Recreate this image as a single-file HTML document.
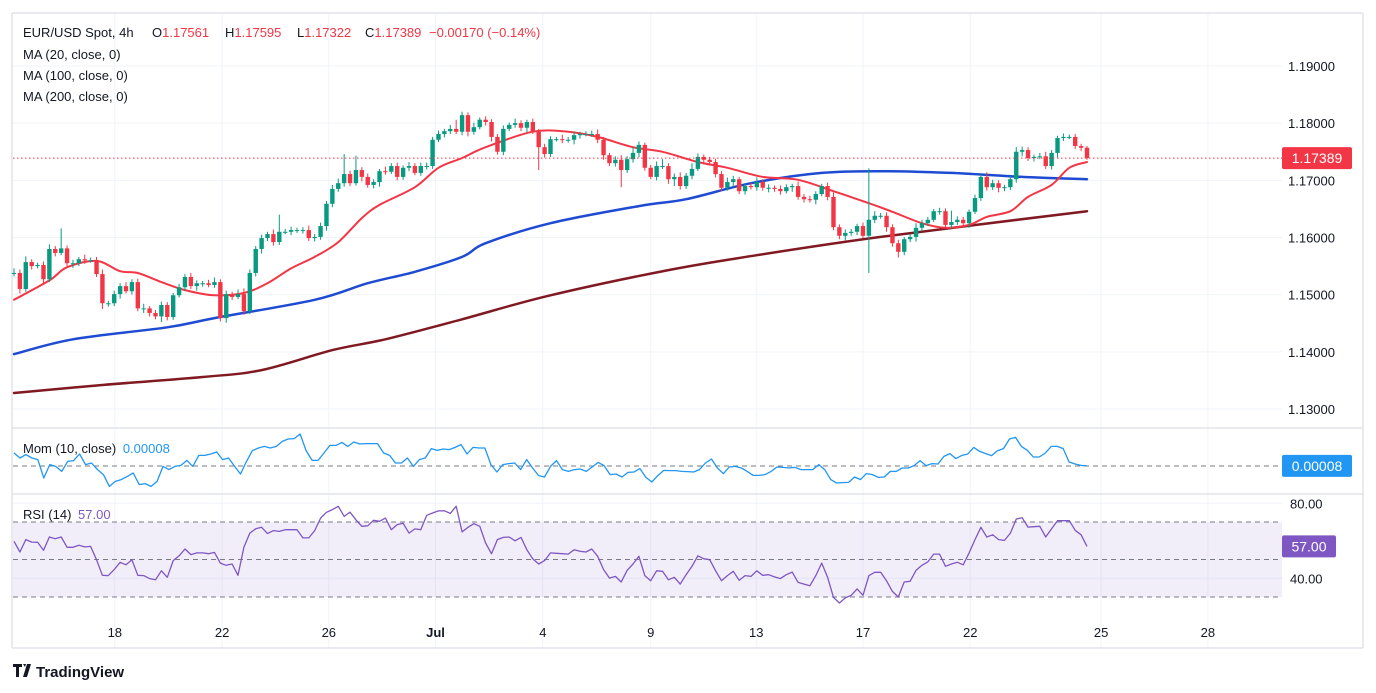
<!DOCTYPE html>
<html><head><meta charset="utf-8"><style>
html,body{margin:0;padding:0;background:#fff;width:1376px;height:693px;overflow:hidden}
svg{display:block;font-family:"Liberation Sans",sans-serif}
</style></head><body>
<svg id="chart" width="1376" height="693" viewBox="0 0 1376 693">
<rect x="0" y="0" width="1376" height="693" fill="#fff"/>
<g id="grid"></g>
<g id="panes"></g>
<g id="ma"></g>
<g id="candles"></g>
<g id="ind"></g>
<g id="axes"></g>
<g font-size="13" fill="#131722">
<text y="37"><tspan x="23">EUR/USD Spot, 4h</tspan><tspan x="152">O</tspan><tspan fill="#f23645">1.17561</tspan><tspan x="225">H</tspan><tspan fill="#f23645">1.17595</tspan><tspan x="297">L</tspan><tspan fill="#f23645">1.17322</tspan><tspan x="365">C</tspan><tspan fill="#f23645">1.17389</tspan><tspan x="429" fill="#f23645">−0.00170 (−0.14%)</tspan></text>
<text x="23" y="59">MA (20, close, 0)</text>
<text x="23" y="80">MA (100, close, 0)</text>
<text x="23" y="101">MA (200, close, 0)</text>
<text x="23" y="453">Mom (10, close) <tspan dx="3" fill="#2196f3">0.00008</tspan></text>
<text x="23" y="519">RSI (14) <tspan dx="3" fill="#7e57c2">57.00</tspan></text>
</g>
<g>
<path d="M13 664h9v3h-3v10h-3v-10h-3z M23 664h3l-1 3z M27 664h4l-4 13h-4z" fill="#131722"/>
<text x="36" y="677" font-size="15" font-weight="bold" fill="#131722">TradingView</text>
</g>
</svg>
<script>
const closes=[1.1538,1.1510,1.1557,1.1550,1.1552,1.1527,1.1580,1.1573,1.1581,1.1555,
1.1555,1.1562,1.1560,1.1560,1.1536,1.1485,1.1485,1.1501,1.1515,1.1506,
1.1522,1.1476,1.1476,1.1468,1.1462,1.1482,1.1461,1.1499,1.1513,1.1531,
1.1515,1.1520,1.1520,1.1517,1.1522,1.1459,1.1501,1.1496,1.1501,1.1471,
1.1538,1.1580,1.1599,1.1606,1.1592,1.1610,1.1610,1.1613,1.1613,1.1613,
1.1599,1.1601,1.1620,1.1659,1.1685,1.1695,1.1711,1.1695,1.1718,1.1706,
1.1692,1.1697,1.1716,1.1715,1.1725,1.1706,1.1722,1.1725,1.1713,1.1725,
1.1725,1.1771,1.1781,1.1786,1.1790,1.1785,1.1814,
1.1785,1.1793,1.1806,1.1802,1.1776,1.1750,1.1790,1.1797,1.1800,1.1792,
1.1802,1.1785,1.1758,1.1746,1.1772,1.1772,1.1771,1.1771,1.1779,1.1781,
1.1781,1.1781,1.1771,1.1744,1.1730,1.1736,1.1718,1.1737,1.1748,1.1762,
1.1722,1.1706,1.1725,1.1725,1.1702,1.1706,1.1690,1.1708,1.1720,1.1741,
1.1736,1.1732,1.1711,1.1687,1.1697,1.1702,1.1681,1.1690,1.1688,1.1697,
1.1687,1.1687,1.1685,1.1681,1.1688,1.1690,1.1671,1.1667,1.1666,1.1676,
1.1690,1.1671,1.1618,1.1603,1.1608,1.1610,1.1620,1.1603,1.1631,1.1638,
1.1638,1.1618,1.1590,1.1575,1.1597,1.1601,1.1617,1.1625,1.1631,1.1646,
1.1646,1.1622,1.1627,1.1631,1.1625,1.1645,1.1669,1.1706,1.1688,1.1695,
1.1687,1.1688,1.1702,1.1750,1.1753,1.1739,1.1741,1.1742,1.1725,1.1748,
1.1774,1.1776,1.1776,1.1760,1.1757,1.1739];
const firstOpen=1.1538;
const hiWickPips=[8,6,10,5,4,6,8,5,35,5, 6,4,8,5,6,8,4,6,5,7, 5,6,8,4,5,6,5,4,6,5, 7,5,4,6,8,5,6,4,8,10,
6,5,6,4,8,30,5,6,4,5, 8,5,6,5,7,8,35,6,25,5, 6,5,4,8,5,6,4,7,5,6, 6,5,6,4,7,16,6,5,8,4,
6,5,5,6,4,8,5,4,6,5, 6,5,4,8,5,6,4,5,6,8, 5,4,6,8,5,10,6,4,5,8, 12,5,6,8,5,10,6,4,5,6,
5,8,6,4,5,6,8,5,6,4, 6,5,4,8,5,6,5,4,6,8, 5,6,5,4,6,90,8,5,6,5, 6,4,5,8,6,5,4,6,5,20,
6,5,4,6,5,8,6,5,4,6, 8,6,5,4,6,8,5,4,6,4, 5,4,3];
const loWickPips=[6,8,5,6,4,8,5,6,4,5, 8,5,6,4,5,10,6,5,8,4, 6,5,8,6,5,10,6,5,4,6, 5,8,6,4,5,6,8,5,4,6,
5,6,8,5,6,5,4,6,5,6, 5,6,5,8,6,5,6,5,4,8, 5,6,8,5,4,6,5,6,4,5, 6,5,4,6,5,4,6,8,5,4,
6,8,5,6,4,5,6,8,4,40, 6,5,4,6,5,8,6,4,5,6, 8,5,6,30,5,6,8,5,4,6, 5,8,12,6,5,6,4,8,5,6,
6,5,8,5,6,4,6,5,8,5, 6,4,8,5,6,5,8,4,6,5, 6,8,5,6,4,65,6,5,8,6, 10,6,5,8,6,5,4,6,5,6,
5,6,8,4,5,6,5,8,6,5, 6,8,5,6,4,5,6,8,5,4, 5,6,3];
const ma20Bars=[0,6,9,14,18,21,25,29,34,39,43,47,51,55,59,62,68,72,76,80,88,94,99,105,110,116,121,127,133,139,145,149,154,158,162,165,169,172,176,179,182];
const ma20Vals=[1.1491,1.1525,1.1548,1.1559,1.1541,1.1538,1.1522,1.1508,1.1499,1.1503,1.1520,1.1546,1.1566,1.1592,1.1634,1.1657,1.1688,1.1722,1.1739,1.1758,1.1785,1.1785,1.1776,1.1758,1.1750,1.1732,1.1722,1.1706,1.1701,1.1681,1.1660,1.1645,1.1625,1.1617,1.1622,1.1636,1.1646,1.1671,1.1692,1.1722,1.1732];
const ma100Bars=[0,10,26,34,51,60,68,76,80,91,106,114,125,137,148,159,171,182];
const ma100Vals=[1.1396,1.1422,1.1443,1.1459,1.1491,1.1520,1.1540,1.1566,1.1590,1.1625,1.1655,1.1667,1.1695,1.1713,1.1716,1.1713,1.1706,1.1702];
const ma200Bars=[0,15,32,42,54,63,76,91,111,126,147,182];
const ma200Vals=[1.1328,1.1342,1.1356,1.1368,1.1403,1.1422,1.1457,1.1499,1.1543,1.1569,1.1601,1.1646];
const momVals=[0.0065,0.0040,0.0057,0.0040,0.0032,-0.0060,0.0007,-0.0002,-0.0027,0.0023,0.0027,0.0060,0.0007,0.0015,-0.0018,-0.0043,-0.0102,-0.0077,-0.0068,-0.0052,-0.0035,-0.0093,-0.0088,-0.0102,-0.0077,-0.0002,-0.0018,-0.0002,0.0003,0.0028,-0.0002,0.0053,0.0053,0.0060,0.0070,0.0032,0.0040,-0.0002,-0.0040,0.0023,0.0077,0.0090,0.0098,0.0090,0.0098,0.0123,0.0135,0.0137,0.0160,0.0077,0.0028,0.0028,0.0065,0.0103,0.0103,0.0118,0.0098,0.0120,0.0110,0.0112,0.0112,0.0112,0.0065,0.0053,0.0015,0.0015,0.0040,-0.0002,0.0032,0.0040,0.0087,0.0078,0.0085,0.0082,0.0093,0.0107,0.0060,0.0093,0.0090,0.0090,0.0007,-0.0030,0.0007,0.0012,0.0015,-0.0018,0.0032,-0.0010,-0.0048,
-0.0055,-0.0002,0.0027,-0.0018,-0.0027,-0.0018,-0.0015,-0.0027,-0.0005,0.0018,0.0002,-0.0043,-0.0040,-0.0055,-0.0032,-0.0030,-0.0013,-0.0057,-0.0080,-0.0048,-0.0022,-0.0023,-0.0023,-0.0027,-0.0028,-0.0030,-0.0018,0.0015,0.0035,-0.0010,-0.0038,-0.0005,-0.0002,-0.0010,-0.0027,-0.0047,-0.0047,-0.0043,-0.0027,-0.0005,-0.0007,-0.0010,-0.0007,-0.0018,-0.0018,-0.0018,0.0007,-0.0018,-0.0068,-0.0085,-0.0083,-0.0082,-0.0055,-0.0068,-0.0038,-0.0043,-0.0057,-0.0055,-0.0027,-0.0027,-0.0010,-0.0010,0.0002,0.0027,0.0002,0.0012,0.0010,0.0048,0.0062,0.0037,0.0053,0.0060,0.0093,0.0073,0.0062,0.0052,0.0077,0.0087,0.0135,0.0143,0.0098,0.0078,0.0045,0.0045,0.0065,0.0098,0.0098,0.0087,0.0020,0.0010,0.0003,0.00008];
const rsiVals=[59.7,54.0,60.6,59.3,59.2,54.9,62.0,61.1,62.0,56.5,56.5,57.6,56.7,57.0,49.9,41.6,41.4,44.6,48.5,47.2,49.9,41.6,41.4,39.8,39.2,44.0,40.5,49.4,52.0,55.6,52.6,53.5,53.5,53.1,53.8,48.1,46.9,47.6,41.6,56.5,64.1,66.4,67.2,63.8,65.4,65.0,65.9,65.9,65.9,61.5,61.5,65.4,72.1,75.2,76.6,78.4,73.0,75.3,71.2,67.7,68.0,70.9,70.4,72.1,65.9,68.6,69.3,64.1,66.3,65.9,73.6,74.8,75.9,76.0,74.6,78.4,64.7,67.2,69.1,67.7,58.8,53.1,60.6,61.8,62.0,60.0,61.8,55.2,50.3,
47.6,49.4,53.5,53.3,53.1,52.9,55.2,54.4,54.0,55.6,51.7,44.6,40.1,41.0,38.0,44.2,47.6,51.7,41.4,38.7,44.0,43.7,39.2,40.5,36.9,41.9,46.4,52.0,50.4,49.9,44.0,38.7,41.4,43.7,38.9,41.4,41.0,44.0,41.6,41.9,40.7,39.8,41.9,43.3,37.8,36.9,36.0,41.4,48.1,40.5,29.8,26.8,29.5,30.9,34.3,30.9,41.4,43.2,43.2,38.7,33.0,30.0,38.0,38.4,44.2,46.9,48.7,52.9,52.9,46.4,47.6,48.5,47.2,53.5,60.6,67.2,62.0,63.2,60.6,60.2,64.1,71.6,72.3,67.3,67.5,67.7,62.0,66.4,70.7,70.7,70.7,65.6,63.2,57.0];
const priceTicks=[1.13,1.14,1.15,1.16,1.17,1.18,1.19];
const rsiTicks=[80,40];
const rsiLevels=[70,50,30];
const dateLabels=["18","22","26","Jul","4","9","13","17","22","25","28"];
const dateBars=[17.1,35.3,53.4,71.5,89.7,108,125.9,144,162.2,184.4,202.5];
const lastPrice=1.17389;

const NS="http://www.w3.org/2000/svg";
const L=13,R=1282,N=closes.length,X0=14,X1=1087;
const xb=i=>X0+i*(X1-X0)/(N-1);
const yP=p=>66+(1.19-p)*5717;
const yM=v=>466-v*2000;
const yR=v=>522+(70-v)*1.875;
function mk(tag,attrs,parent){const e=document.createElementNS(NS,tag);for(const k in attrs)e.setAttribute(k,attrs[k]);parent.appendChild(e);return e;}
const G=id=>document.getElementById(id);
const grid=G('grid'),panes=G('panes'),maG=G('ma'),cg=G('candles'),ind=G('ind'),ax=G('axes');

priceTicks.forEach(p=>{const l=mk('line',{x1:L,x2:R,y1:yP(p),y2:yP(p),stroke:'#f0f3fa','stroke-width':1},grid);

});
rsiTicks.forEach(v=>{const l=mk('line',{x1:L,x2:R,y1:yR(v),y2:yR(v),stroke:'#f0f3fa'},grid);

});
dateBars.forEach(b=>{const l=mk('line',{x1:xb(b),x2:xb(b),y1:14,y2:648,stroke:'#f0f3fa'},grid);

});

[[12,13,1363,13],[12,648,1363,648],[12,13,12,648],[1363,13,1363,648],[12,428,1363,428],[12,494,1363,494]].forEach(a=>{
const l=mk('line',{x1:a[0],y1:a[1],x2:a[2],y2:a[3],stroke:'#e0e3eb','stroke-width':1.5},panes);

});
const band=mk('rect',{x:L,y:yR(70),width:R-L,height:yR(30)-yR(70),fill:'#7e57c2','fill-opacity':0.1},panes);


rsiLevels.forEach(v=>{const l=mk('line',{x1:L,x2:R,y1:yR(v),y2:yR(v),stroke:'#787b86','stroke-dasharray':'5 4'},panes);

});
const zl=mk('line',{x1:L,x2:R,y1:yM(0),y2:yM(0),stroke:'#787b86','stroke-dasharray':'5 4'},panes);



function smoothPath(pts){let d='M'+pts[0][0].toFixed(1)+' '+pts[0][1].toFixed(1);
for(let i=0;i<pts.length-1;i++){const p0=pts[i-1]||pts[i],p1=pts[i],p2=pts[i+1],p3=pts[i+2]||p2;
const c1=[p1[0]+(p2[0]-p0[0])/6,p1[1]+(p2[1]-p0[1])/6],c2=[p2[0]-(p3[0]-p1[0])/6,p2[1]-(p3[1]-p1[1])/6];
d+=' C'+c1[0].toFixed(1)+' '+c1[1].toFixed(1)+' '+c2[0].toFixed(1)+' '+c2[1].toFixed(1)+' '+p2[0].toFixed(1)+' '+p2[1].toFixed(1);}
return d;}
function maLine(bars,vals,color,w,name){const pts=bars.map((b,i)=>[xb(b),yP(vals[i])]);
const p=mk('path',{d:smoothPath(pts),fill:'none',stroke:color,'stroke-width':w,'stroke-linejoin':'round','stroke-linecap':'round'},maG);

}
maLine(ma200Bars,ma200Vals,'#801922',2.5,'ma200-line');
maLine(ma100Bars,ma100Vals,'#1e4bd2',2.5,'ma100-line');

closes.forEach((c,i)=>{const o=i?closes[i-1]:firstOpen;const up=c>=o;const col=up?'#089981':'#f23645';
const hi=Math.max(o,c)+hiWickPips[i]/10000,lo=Math.min(o,c)-loWickPips[i]/10000;const x=xb(i);
const g=mk('g',{},cg);


mk('line',{x1:x,x2:x,y1:yP(hi),y2:yP(lo),stroke:col,'stroke-width':1},g);
const t=yP(Math.max(o,c)),h=Math.max(1,yP(Math.min(o,c))-t);
mk('rect',{x:x-2.2,y:t,width:4.4,height:h,fill:col},g);});
maLine(ma20Bars,ma20Vals,'#f23645',2,'ma20-line');

const lp=mk('line',{x1:L,x2:R,y1:yP(lastPrice),y2:yP(lastPrice),stroke:'#f23645','stroke-dasharray':'1.5 2.5'},ax);



function series(vals,yf,color,name){const d=vals.map((v,i)=>(i?'L':'M')+(X0+i*(X1-X0)/(vals.length-1)).toFixed(1)+' '+yf(v).toFixed(1)).join(' ');
const p=mk('path',{d:d,fill:'none',stroke:color,'stroke-width':1.3,'stroke-linejoin':'round'},ind);

}
series(momVals,yM,'#2196f3','momentum-line');
series(rsiVals,yR,'#7e57c2','rsi-line');

function txt(s,x,y,attrs,name){const t=mk('text',Object.assign({x:x,y:y,'font-size':13,fill:'#131722'},attrs||{}),ax);t.textContent=s;

return t;}
priceTicks.forEach(p=>txt(p.toFixed(5),1288,yP(p)+5,{},'price-tick-label'));
rsiTicks.forEach(v=>txt(v.toFixed(2),1290,yR(v)+5,{},'rsi-tick-label'));
dateLabels.forEach((s,i)=>txt(s,xb(dateBars[i]),637,{'text-anchor':'middle','font-weight':s==='Jul'?'bold':'normal'},'date-label'));
function badge(s,y,col,name){const r=mk('rect',{x:1282,y:y-11,width:70,height:22,rx:2,fill:col},ax);


txt(s,1317,y+5,{fill:'#fff','text-anchor':'middle','font-size':14},name);}
badge(lastPrice.toFixed(5),yP(lastPrice),'#f23645','last-price-badge');
badge(momVals[momVals.length-1].toFixed(5),yM(momVals[momVals.length-1]),'#2196f3','momentum-badge');
const rb=rsiVals[rsiVals.length-1];
const r=mk('rect',{x:1282,y:yR(rb)-11,width:54,height:22,rx:2,fill:'#7e57c2'},ax);


txt(rb.toFixed(2),1309,yR(rb)+5,{fill:'#fff','text-anchor':'middle','font-size':14},'rsi-badge');
</script>
</body></html>
